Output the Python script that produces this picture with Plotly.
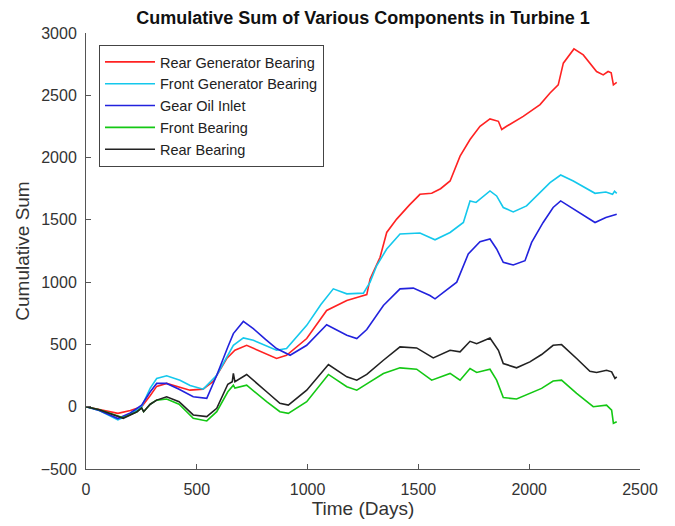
import plotly.graph_objects as go

# ---- data ----
red_days = [0, 60, 144, 200, 251, 290, 319, 364, 420, 469, 528, 574, 635, 672, 725, 790, 860, 905, 996, 1086, 1177, 1230, 1267, 1282, 1327, 1357, 1402, 1460, 1507, 1560, 1600, 1643, 1688, 1733, 1778, 1823, 1861, 1876, 1898, 1973, 2049, 2094, 2131, 2154, 2202, 2244, 2304, 2334, 2356, 2370, 2380, 2395]
red_vals = [0, -20, -53, -30, 0, 90, 163, 187, 160, 133, 141, 203, 387, 453, 493, 440, 387, 413, 547, 773, 853, 880, 900, 1026, 1200, 1399, 1506, 1620, 1705, 1713, 1750, 1812, 2011, 2145, 2251, 2310, 2291, 2225, 2251, 2331, 2425, 2518, 2584, 2758, 2872, 2824, 2691, 2664, 2691, 2680, 2584, 2603]

cyan_days = [0, 60, 144, 200, 251, 290, 319, 364, 424, 470, 529, 590, 665, 710, 755, 810, 860, 905, 996, 1060, 1116, 1177, 1252, 1282, 1312, 1357, 1417, 1507, 1552, 1575, 1643, 1703, 1733, 1760, 1823, 1853, 1883, 1928, 1988, 2049, 2094, 2142, 2199, 2297, 2346, 2376, 2385, 2395]
cyan_vals = [0, -30, -106, -60, 0, 150, 227, 248, 213, 170, 141, 253, 493, 552, 533, 490, 453, 467, 653, 820, 946, 906, 912, 1000, 1133, 1266, 1386, 1394, 1359, 1340, 1399, 1479, 1652, 1640, 1732, 1692, 1599, 1564, 1612, 1719, 1799, 1860, 1812, 1713, 1724, 1705, 1730, 1713]

blue_days = [0, 60, 144, 200, 251, 290, 319, 364, 420, 484, 545, 590, 640, 665, 710, 755, 810, 860, 921, 996, 1086, 1177, 1222, 1267, 1342, 1417, 1477, 1552, 1575, 1673, 1725, 1778, 1823, 1853, 1883, 1928, 1981, 2011, 2063, 2108, 2142, 2214, 2297, 2346, 2395]
blue_vals = [0, -30, -95, -50, 13, 120, 187, 187, 140, 80, 67, 253, 480, 587, 685, 627, 540, 467, 413, 493, 658, 573, 547, 620, 813, 946, 952, 893, 866, 1000, 1226, 1324, 1346, 1266, 1159, 1138, 1172, 1319, 1479, 1599, 1652, 1572, 1479, 1519, 1545]

green_days = [0, 60, 168, 230, 251, 260, 290, 319, 364, 420, 484, 545, 590, 640, 665, 672, 725, 815, 875, 913, 996, 1094, 1177, 1222, 1267, 1342, 1417, 1492, 1560, 1643, 1688, 1733, 1763, 1823, 1853, 1883, 1943, 2003, 2056, 2108, 2146, 2214, 2289, 2349, 2372, 2380, 2395]
green_vals = [0, -25, -88, -40, -10, -40, 20, 53, 62, 20, -93, -114, -40, 120, 173, 150, 173, 40, -40, -53, 40, 259, 160, 133, 183, 267, 312, 301, 213, 267, 213, 307, 275, 301, 213, 73, 62, 107, 147, 206, 213, 107, 0, 13, -27, -133, -120]

black_days = [0, 60, 168, 230, 251, 260, 290, 319, 364, 420, 484, 545, 590, 640, 660, 665, 672, 725, 815, 875, 913, 996, 1094, 1177, 1222, 1267, 1342, 1417, 1492, 1567, 1643, 1688, 1733, 1763, 1823, 1861, 1883, 1943, 2003, 2056, 2108, 2146, 2214, 2274, 2304, 2349, 2372, 2387, 2395]
black_vals = [0, -25, -93, -40, -10, -40, 20, 53, 80, 40, -66, -79, -13, 180, 200, 267, 200, 259, 120, 27, 13, 133, 339, 240, 213, 260, 373, 480, 472, 392, 453, 440, 525, 506, 552, 453, 347, 312, 360, 419, 493, 499, 387, 285, 275, 293, 280, 227, 240]

series = [
    ("Rear Generator Bearing", red_days, red_vals, "#FF2222"),
    ("Front Generator Bearing", cyan_days, cyan_vals, "#14C8EC"),
    ("Gear Oil Inlet", blue_days, blue_vals, "#2222DD"),
    ("Front Bearing", green_days, green_vals, "#14C814"),
    ("Rear Bearing", black_days, black_vals, "#222222"),
]

x_ticks = [0, 500, 1000, 1500, 2000, 2500]
y_ticks = [-500, 0, 500, 1000, 1500, 2000, 2500, 3000]

FONT = "Liberation Sans, Arial, Helvetica, sans-serif"

fig = go.Figure()
for name, d, v, c in series:
    fig.add_trace(go.Scatter(x=d, y=v, mode="lines", name=name,
                             line=dict(color=c, width=1.6)))

axis_common = dict(
    showgrid=False, zeroline=False, showline=True, linecolor="#555555", linewidth=1,
    ticks="inside", ticklen=5, tickcolor="#555555",
    tickfont=dict(family=FONT, size=16, color="#333333"),
)

fig.update_layout(
    width=675, height=526,
    margin=dict(l=86, r=35, t=33, b=55),
    paper_bgcolor="white", plot_bgcolor="white",
    title=dict(text="<b>Cumulative Sum of Various Components in Turbine 1</b>",
               x=(86 + 640) / 2 / 675, xanchor="center", y=1 - 18 / 526, yanchor="middle",
               font=dict(family=FONT, size=18, color="#111111")),
    xaxis=dict(range=[0, 2500], tickvals=x_ticks, ticklabelstandoff=6,
               title=dict(text="Time (Days)", font=dict(family=FONT, size=19, color="#333333"), standoff=2),
               **axis_common),
    yaxis=dict(range=[-500, 3000], tickvals=y_ticks, ticklabelstandoff=5,
               title=dict(text="Cumulative Sum", font=dict(family=FONT, size=19, color="#333333"), standoff=6),
               **axis_common),
    legend=dict(x=13 / 554, y=(471 - 45) / 438, xanchor="left", yanchor="top",
                bgcolor="white", bordercolor="#444444", borderwidth=1,
                font=dict(family=FONT, size=14.5, color="#222222"),
                itemwidth=50, tracegroupgap=0),
    showlegend=True,
)

fig.write_html("out.html")
